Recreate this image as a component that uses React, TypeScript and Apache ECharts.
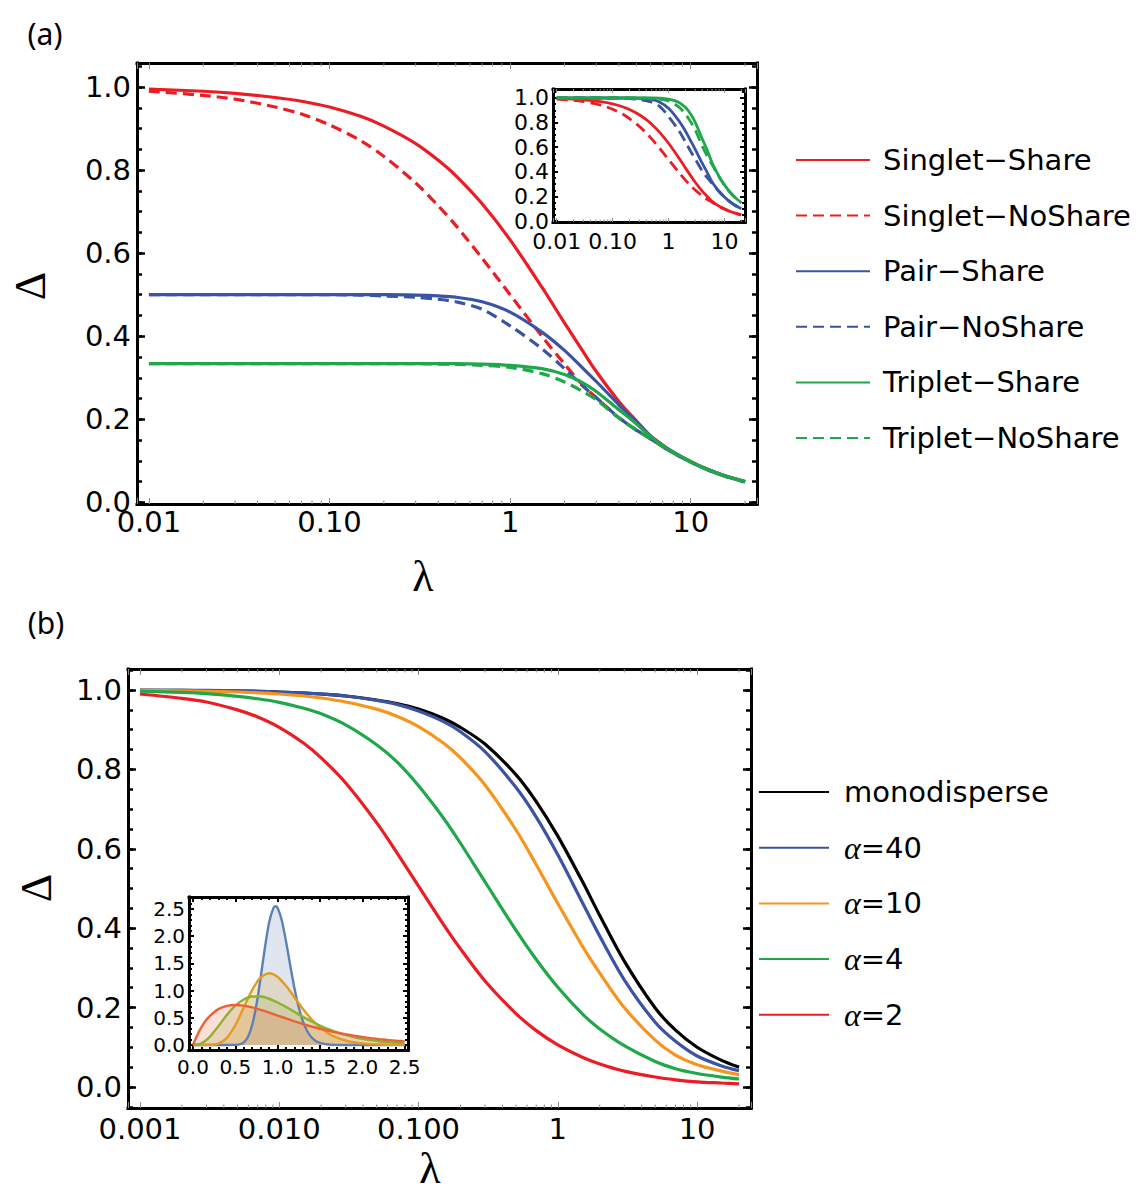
import React, { useEffect, useRef } from 'react';
import * as echarts from 'echarts';

// ---------------- Panel (a) data ----------------
const lambdaA = [0.01, 0.02, 0.03, 0.05, 0.07, 0.1, 0.15, 0.2, 0.3, 0.4, 0.5, 0.7, 1, 1.5, 2, 2.5, 3, 4, 5, 6, 7, 8, 10, 12, 15, 20];
const singletShare = [0.995, 0.99, 0.985, 0.975, 0.966, 0.952, 0.929, 0.906, 0.864, 0.824, 0.787, 0.719, 0.632, 0.518, 0.432, 0.367, 0.315, 0.243, 0.196, 0.16, 0.138, 0.121, 0.098, 0.082, 0.066, 0.05];
const singletNoShare = [0.99, 0.98, 0.971, 0.952, 0.935, 0.909, 0.87, 0.833, 0.769, 0.714, 0.667, 0.588, 0.5, 0.4, 0.333, 0.284, 0.252, 0.204, 0.174, 0.153, 0.134, 0.119, 0.097, 0.081, 0.065, 0.049];
const pairShare = [0.5, 0.5, 0.5, 0.5, 0.5, 0.5, 0.5, 0.5, 0.499, 0.497, 0.494, 0.483, 0.458, 0.41, 0.366, 0.325, 0.291, 0.235, 0.194, 0.159, 0.137, 0.121, 0.098, 0.082, 0.066, 0.05];
const pairNoShare = [0.5, 0.5, 0.5, 0.5, 0.5, 0.5, 0.499, 0.497, 0.494, 0.489, 0.483, 0.465, 0.425, 0.37, 0.322, 0.282, 0.252, 0.204, 0.174, 0.153, 0.134, 0.119, 0.097, 0.081, 0.065, 0.049];
const tripletShare = [0.334, 0.334, 0.334, 0.334, 0.334, 0.334, 0.334, 0.334, 0.334, 0.334, 0.334, 0.333, 0.33, 0.322, 0.308, 0.289, 0.267, 0.223, 0.189, 0.158, 0.137, 0.121, 0.098, 0.082, 0.066, 0.05];
const tripletNoShare = [0.334, 0.334, 0.334, 0.334, 0.334, 0.334, 0.334, 0.334, 0.334, 0.333, 0.332, 0.33, 0.325, 0.31, 0.29, 0.268, 0.247, 0.203, 0.174, 0.153, 0.134, 0.119, 0.097, 0.081, 0.065, 0.049];

// inset (a): normalised curves
const insetSingletShare = [0.995, 0.99, 0.985, 0.975, 0.966, 0.952, 0.929, 0.906, 0.864, 0.824, 0.787, 0.719, 0.632, 0.518, 0.432, 0.367, 0.315, 0.243, 0.196, 0.16, 0.138, 0.121, 0.098, 0.082, 0.066, 0.05];
const insetSingletNoShare = [0.99, 0.98, 0.971, 0.952, 0.935, 0.909, 0.87, 0.833, 0.769, 0.714, 0.667, 0.588, 0.5, 0.4, 0.333, 0.284, 0.252, 0.204, 0.174, 0.153, 0.134, 0.119, 0.097, 0.081, 0.065, 0.049];
const insetPairShare = [1, 1, 1, 1, 1, 1, 1, 1, 0.998, 0.994, 0.988, 0.966, 0.916, 0.82, 0.732, 0.65, 0.582, 0.47, 0.388, 0.318, 0.274, 0.242, 0.196, 0.164, 0.132, 0.1];
const insetPairNoShare = [1, 1, 1, 1, 1, 1, 0.998, 0.994, 0.988, 0.978, 0.966, 0.93, 0.85, 0.74, 0.644, 0.564, 0.504, 0.408, 0.348, 0.306, 0.268, 0.238, 0.194, 0.162, 0.13, 0.098];
const insetTripletShare = [1, 1, 1, 1, 1, 1, 1, 1, 1, 1, 1, 0.999, 0.99, 0.966, 0.924, 0.867, 0.801, 0.669, 0.567, 0.474, 0.411, 0.363, 0.294, 0.246, 0.198, 0.15];
const insetTripletNoShare = [1, 1, 1, 1, 1, 1, 1, 1, 1, 0.999, 0.996, 0.99, 0.975, 0.93, 0.87, 0.804, 0.741, 0.609, 0.522, 0.459, 0.402, 0.357, 0.291, 0.243, 0.195, 0.147];

// ---------------- Panel (b) data ----------------
const lambdaB = [0.001, 0.002, 0.003, 0.005, 0.007, 0.01, 0.015, 0.02, 0.03, 0.05, 0.07, 0.1, 0.15, 0.2, 0.3, 0.5, 0.7, 1, 1.5, 2, 3, 5, 7, 10, 15, 20];
const monodisperse = [0.9995, 0.999, 0.9985, 0.9975, 0.9965, 0.995, 0.9925, 0.99, 0.985, 0.975, 0.966, 0.952, 0.929, 0.906, 0.864, 0.787, 0.719, 0.632, 0.518, 0.432, 0.317, 0.199, 0.143, 0.1, 0.067, 0.05];
const alpha40 = [1, 0.999, 0.999, 0.998, 0.997, 0.995, 0.993, 0.99, 0.985, 0.974, 0.964, 0.947, 0.921, 0.895, 0.845, 0.755, 0.68, 0.585, 0.465, 0.38, 0.27, 0.163, 0.115, 0.078, 0.053, 0.041];
const alpha10 = [0.999, 0.998, 0.997, 0.995, 0.993, 0.99, 0.985, 0.98, 0.97, 0.952, 0.934, 0.908, 0.867, 0.829, 0.761, 0.648, 0.56, 0.462, 0.355, 0.287, 0.2, 0.118, 0.08, 0.056, 0.04, 0.031];
const alpha4 = [0.997, 0.994, 0.991, 0.984, 0.978, 0.969, 0.954, 0.94, 0.912, 0.862, 0.819, 0.759, 0.679, 0.614, 0.517, 0.395, 0.321, 0.251, 0.184, 0.146, 0.104, 0.064, 0.046, 0.034, 0.025, 0.02];
const alpha2 = [0.99, 0.979, 0.97, 0.95, 0.932, 0.906, 0.866, 0.829, 0.766, 0.666, 0.59, 0.506, 0.411, 0.348, 0.267, 0.185, 0.142, 0.106, 0.075, 0.058, 0.04, 0.025, 0.018, 0.013, 0.01, 0.008];

// inset (b): size distributions
const sizeX40 = [0, 0.4, 0.5, 0.55, 0.6, 0.65, 0.7, 0.75, 0.8, 0.85, 0.9, 0.95, 0.975, 1.0, 1.05, 1.1, 1.15, 1.2, 1.25, 1.3, 1.35, 1.4, 1.45, 1.5, 1.6, 1.7, 1.8, 2.0, 2.5];
const density40 = [0, 0, 0.002, 0.012, 0.05, 0.153, 0.373, 0.743, 1.246, 1.795, 2.257, 2.516, 2.549, 2.517, 2.284, 1.897, 1.453, 1.034, 0.688, 0.43, 0.253, 0.142, 0.075, 0.038, 0.009, 0.002, 0, 0, 0];
const sizeX10 = [0, 0.1, 0.2, 0.3, 0.4, 0.5, 0.6, 0.7, 0.8, 0.9, 1.0, 1.1, 1.2, 1.3, 1.4, 1.5, 1.6, 1.7, 1.8, 1.9, 2.0, 2.2, 2.5];
const density10 = [0, 0, 0.002, 0.027, 0.132, 0.363, 0.689, 1.014, 1.241, 1.318, 1.251, 1.085, 0.874, 0.66, 0.473, 0.324, 0.213, 0.135, 0.083, 0.05, 0.029, 0.009, 0.0015];
const sizeX4 = [0, 0.1, 0.2, 0.3, 0.4, 0.5, 0.6, 0.7, 0.8, 0.9, 1.0, 1.1, 1.2, 1.3, 1.4, 1.5, 1.6, 1.7, 1.8, 1.9, 2.0, 2.1, 2.2, 2.3, 2.4, 2.5];
const density4 = [0, 0.029, 0.153, 0.347, 0.551, 0.722, 0.836, 0.89, 0.89, 0.85, 0.781, 0.697, 0.607, 0.517, 0.433, 0.357, 0.29, 0.234, 0.186, 0.147, 0.115, 0.089, 0.069, 0.052, 0.04, 0.03];
const sizeX2 = [0, 0.05, 0.1, 0.15, 0.2, 0.3, 0.4, 0.5, 0.6, 0.7, 0.8, 0.9, 1.0, 1.1, 1.2, 1.3, 1.4, 1.5, 1.6, 1.7, 1.8, 1.9, 2.0, 2.1, 2.2, 2.3, 2.4, 2.5];
const density2 = [0, 0.181, 0.327, 0.444, 0.536, 0.659, 0.719, 0.736, 0.723, 0.69, 0.646, 0.595, 0.541, 0.488, 0.435, 0.386, 0.34, 0.299, 0.261, 0.227, 0.197, 0.17, 0.147, 0.126, 0.108, 0.0925, 0.079, 0.067];

// tick labels
const tickExpA = [-2, -1, 0, 1];
const tickLabelsA = ['0.01', '0.10', '1', '10'];
const tickExpB = [-3, -2, -1, 0, 1];
const tickLabelsB = ['0.001', '0.010', '0.100', '1', '10'];
const minorLogA = [0.02, 0.03, 0.04, 0.05, 0.06, 0.07, 0.08, 0.09, 0.2, 0.3, 0.4, 0.5, 0.6, 0.7, 0.8, 0.9, 2, 3, 4, 5, 6, 7, 8, 9, 20];
const minorLogB = [0.002, 0.003, 0.004, 0.005, 0.006, 0.007, 0.008, 0.009, ...minorLogA];

const legendA = ['Singlet−Share', 'Singlet−NoShare', 'Pair−Share', 'Pair−NoShare', 'Triplet−Share', 'Triplet−NoShare'];
const legendB = ['monodisperse', 'α=40', 'α=10', 'α=4', 'α=2'];

const FONT = "'DejaVu Sans', Verdana, sans-serif";
const SERIF = "'Liberation Serif', 'DejaVu Serif', serif";

const RED = '#ec1c24';
const BLUE = '#3a53a4';
const GREEN = '#1fa84a';
const ORANGE = '#f7941d';

function logFmt(exps: number[], labels: string[]) {
  return (v: number) => {
    const e = Math.log10(v);
    const r = Math.round(e);
    if (Math.abs(e - r) < 1e-6) {
      const k = exps.indexOf(r);
      if (k >= 0) return labels[k];
    }
    return '';
  };
}
function linFmt(step: number, digits: number) {
  return (v: number) => {
    const k = v / step;
    const r = Math.round(k);
    if (Math.abs(k - r) < 1e-6) return (r * step).toFixed(digits);
    return '';
  };
}

const xAxes: any[] = [];
const yAxes: any[] = [];

function addFrame(c: any) {
  const xi = xAxes.length;
  const yi = yAxes.length;
  const frameLine = { show: true, onZero: false, lineStyle: { color: '#000', width: c.frameW, cap: 'square' } };
  const noLine = { show: false, onZero: false };
  const baseX: any = {
    gridIndex: c.grid, type: c.xType, min: c.xmin, max: c.xmax, splitLine: { show: false },
    splitNumber: c.xSplit,
  };
  if (c.xType === 'log') baseX.logBase = 10;
  const xTick = { show: true, inside: true, length: c.xMajorLen, lineStyle: { color: c.xTickColor, width: c.xTickW } };
  const xLab = { show: true, formatter: c.xFmt, margin: c.xMargin, fontSize: c.font, fontFamily: FONT, color: '#000', showMinLabel: true, showMaxLabel: true };
  xAxes.push({ ...baseX, position: 'bottom', axisLine: frameLine, axisTick: xTick, axisLabel: xLab });
  xAxes.push({ ...baseX, position: 'top', axisLine: frameLine, axisTick: xTick, axisLabel: { show: false } });
  if (c.xType === 'value') {
    const mt = { show: true, inside: true, length: c.xMinorLen, lineStyle: { color: c.xTickColor, width: c.xTickW } };
    xAxes.push({ ...baseX, splitNumber: c.xMinorSplit, position: 'bottom', axisLine: noLine, axisTick: mt, axisLabel: { show: false } });
    xAxes.push({ ...baseX, splitNumber: c.xMinorSplit, position: 'top', axisLine: noLine, axisTick: mt, axisLabel: { show: false } });
  }
  const baseY: any = { gridIndex: c.grid, type: 'value', min: c.ymin, max: c.ymax, splitLine: { show: false } };
  const yTick = { show: true, inside: true, length: c.yMajorLen, lineStyle: { color: '#000', width: c.yTickW } };
  const yMinorTick = { show: true, inside: true, length: c.yMinorLen, lineStyle: { color: '#000', width: c.yTickW } };
  yAxes.push({ ...baseY, splitNumber: c.ySplit, position: 'left', axisLine: frameLine, axisTick: yTick,
    axisLabel: { show: true, formatter: c.yFmt, margin: c.yMargin, fontSize: c.font, fontFamily: FONT, color: '#000', showMinLabel: true, showMaxLabel: true } });
  yAxes.push({ ...baseY, splitNumber: c.yMinorSplit, position: 'left', axisLine: noLine, axisTick: yMinorTick, axisLabel: { show: false } });
  yAxes.push({ ...baseY, splitNumber: c.ySplit, position: 'right', axisLine: frameLine, axisTick: yTick, axisLabel: { show: false } });
  yAxes.push({ ...baseY, splitNumber: c.yMinorSplit, position: 'right', axisLine: noLine, axisTick: yMinorTick, axisLabel: { show: false } });
  return { xi, yi };
}

function minorLogSeries(frame: { xi: number; yi: number }, values: number[], yRef: number, len: number) {
  return {
    type: 'custom', silent: true, xAxisIndex: frame.xi, yAxisIndex: frame.yi, z: 5, clip: false,
    data: values.map((v) => [v, yRef]),
    renderItem: (params: any, api: any) => {
      const p = api.coord([api.value(0), api.value(1)]);
      const cs = params.coordSys;
      const st = { stroke: '#8a8a8a', lineWidth: 1 };
      return {
        type: 'group',
        children: [
          { type: 'line', shape: { x1: p[0], y1: cs.y + cs.height, x2: p[0], y2: cs.y + cs.height - len }, style: st },
          { type: 'line', shape: { x1: p[0], y1: cs.y, x2: p[0], y2: cs.y + len }, style: st },
        ],
      };
    },
  };
}

const grids = [
  { left: 137, top: 63, width: 620, height: 441 },
  { left: 553, top: 89, width: 192, height: 133, show: true, backgroundColor: '#fff', borderWidth: 0 },
  { left: 128, top: 669, width: 623, height: 439 },
  { left: 189, top: 897, width: 219, height: 153, show: true, backgroundColor: '#fff', borderWidth: 0 },
];

const frameA = addFrame({
  grid: 0, xType: 'log', xmin: Math.pow(10, -2.066), xmax: Math.pow(10, 1.367), xSplit: 5,
  xFmt: logFmt(tickExpA, tickLabelsA), xMargin: 3, xMajorLen: 6, xTickColor: '#8a8a8a', xTickW: 1,
  ymin: -0.004, ymax: 1.058, ySplit: 5, yMinorSplit: 20, yFmt: linFmt(0.2, 1), yMargin: 6,
  yMajorLen: 8, yMinorLen: 5, yTickW: 2.5, font: 29, frameW: 3,
});
const frameAi = addFrame({
  grid: 1, xType: 'log', xmin: Math.pow(10, -2.066), xmax: Math.pow(10, 1.367), xSplit: 5,
  xFmt: logFmt(tickExpA, tickLabelsA), xMargin: 8, xMajorLen: 4, xTickColor: '#8a8a8a', xTickW: 1,
  ymin: -0.008, ymax: 1.073, ySplit: 5, yMinorSplit: 20, yFmt: linFmt(0.2, 1), yMargin: 4,
  yMajorLen: 5, yMinorLen: 3, yTickW: 2, font: 22, frameW: 3,
});
const frameB = addFrame({
  grid: 2, xType: 'log', xmin: Math.pow(10, -3.086), xmax: Math.pow(10, 1.387), xSplit: 5,
  xFmt: logFmt(tickExpB, tickLabelsB), xMargin: 6, xMajorLen: 6, xTickColor: '#8a8a8a', xTickW: 1,
  ymin: -0.053, ymax: 1.053, ySplit: 5, yMinorSplit: 20, yFmt: linFmt(0.2, 1), yMargin: 6,
  yMajorLen: 8, yMinorLen: 5, yTickW: 2.5, font: 29, frameW: 3,
});
const frameBi = addFrame({
  grid: 3, xType: 'value', xmin: -0.047, xmax: 2.54, xSplit: 5, xMinorSplit: 26,
  xFmt: linFmt(0.5, 1), xMargin: 7, xMajorLen: 5, xMinorLen: 3, xTickColor: '#000', xTickW: 2,
  ymin: -0.092, ymax: 2.72, ySplit: 5, yMinorSplit: 28, yFmt: linFmt(0.5, 1), yMargin: 4,
  yMajorLen: 5, yMinorLen: 3, yTickW: 2, font: 20, frameW: 3,
});

function lineSeries(name: string, frame: any, xs: number[], ys: number[], color: string, dashed: boolean, width: number, z = 3) {
  return {
    type: 'line', name, xAxisIndex: frame.xi, yAxisIndex: frame.yi,
    data: xs.map((x, i) => [x, ys[i]]),
    symbol: 'none', showSymbol: false, smooth: 0.3, z,
    lineStyle: { color, width, type: dashed ? [11, 6] : 'solid' },
    itemStyle: { color },
  };
}

const series: any[] = [
  lineSeries(legendA[0], frameA, lambdaA, singletShare, RED, false, 3.2),
  lineSeries(legendA[1], frameA, lambdaA, singletNoShare, RED, true, 3.2),
  lineSeries(legendA[2], frameA, lambdaA, pairShare, BLUE, false, 3.2),
  lineSeries(legendA[3], frameA, lambdaA, pairNoShare, BLUE, true, 3.2),
  lineSeries(legendA[4], frameA, lambdaA, tripletShare, GREEN, false, 3.2),
  lineSeries(legendA[5], frameA, lambdaA, tripletNoShare, GREEN, true, 3.2),
  lineSeries('inset Singlet-Share', frameAi, lambdaA, insetSingletShare, RED, false, 2.8),
  lineSeries('inset Singlet-NoShare', frameAi, lambdaA, insetSingletNoShare, RED, true, 2.8),
  lineSeries('inset Pair-Share', frameAi, lambdaA, insetPairShare, BLUE, false, 2.8),
  lineSeries('inset Pair-NoShare', frameAi, lambdaA, insetPairNoShare, BLUE, true, 2.8),
  lineSeries('inset Triplet-Share', frameAi, lambdaA, insetTripletShare, GREEN, false, 2.8),
  lineSeries('inset Triplet-NoShare', frameAi, lambdaA, insetTripletNoShare, GREEN, true, 2.8),
  lineSeries(legendB[0], frameB, lambdaB, monodisperse, '#000', false, 3.2),
  lineSeries(legendB[1], frameB, lambdaB, alpha40, BLUE, false, 3.2),
  lineSeries(legendB[2], frameB, lambdaB, alpha10, ORANGE, false, 3.2),
  lineSeries(legendB[3], frameB, lambdaB, alpha4, GREEN, false, 3.2),
  lineSeries(legendB[4], frameB, lambdaB, alpha2, RED, false, 3.2),
  minorLogSeries(frameA, minorLogA, 0.5, 3.5),
  minorLogSeries(frameAi, minorLogA, 0.5, 2.5),
  minorLogSeries(frameB, minorLogB, 0.5, 3.5),
];

const insetB = [
  { name: 'density α=40', xs: sizeX40, ys: density40, color: '#5e81b5' },
  { name: 'density α=10', xs: sizeX10, ys: density10, color: '#e19c24' },
  { name: 'density α=4', xs: sizeX4, ys: density4, color: '#8fb032' },
  { name: 'density α=2', xs: sizeX2, ys: density2, color: '#eb6235' },
];
insetB.forEach((d) => {
  const s: any = lineSeries(d.name, frameBi, d.xs, d.ys, d.color, false, 2.4, 4);
  s.smooth = 0.25;
  s.areaStyle = { color: d.color, opacity: 0.2 };
  series.push(s);
});

const legendCommon = {
  orient: 'vertical', selectedMode: false, itemHeight: 16,
  itemStyle: { opacity: 0, color: 'rgba(0,0,0,0)', borderWidth: 0 },
};

const option: any = {
  animation: false,
  backgroundColor: '#fff',
  grid: grids,
  xAxis: xAxes,
  yAxis: yAxes,
  legend: [
    {
      ...legendCommon,
      data: legendA, left: 790, top: 138, itemWidth: 74, itemGap: 21.6,
      textStyle: { fontSize: 29, fontFamily: FONT, color: '#000', lineHeight: 34, padding: [0, 0, 0, 8] },
    },
    {
      ...legendCommon,
      data: legendB, left: 753, top: 770, itemWidth: 70, itemGap: 21.7,
      formatter: (n: string) => n.replace('α', '{i|α}'),
      textStyle: {
        fontSize: 29, fontFamily: FONT, color: '#000', lineHeight: 34, padding: [0, 0, 0, 10],
        rich: { i: { fontStyle: 'italic', fontFamily: SERIF, fontSize: 32, color: '#000' } },
      },
    },
  ],
  graphic: [
    { type: 'text', x: 45, y: 33, style: { text: '(a)', font: "30px 'Noto Sans', 'Open Sans', sans-serif", fill: '#000', textAlign: 'center', textVerticalAlign: 'middle' } },
    { type: 'text', x: 46, y: 622, style: { text: '(b)', font: "30px 'Noto Sans', 'Open Sans', sans-serif", fill: '#000', textAlign: 'center', textVerticalAlign: 'middle' } },
    { type: 'text', x: 30, y: 286, rotation: Math.PI / 2, style: { text: 'Δ', font: `44px ${SERIF}`, fill: '#000', textAlign: 'center', textVerticalAlign: 'middle' } },
    { type: 'text', x: 36, y: 888, rotation: Math.PI / 2, style: { text: 'Δ', font: `44px ${SERIF}`, fill: '#000', textAlign: 'center', textVerticalAlign: 'middle' } },
    { type: 'text', x: 423, y: 576, style: { text: 'λ', font: `44px ${SERIF}`, fill: '#000', textAlign: 'center', textVerticalAlign: 'middle' } },
    { type: 'text', x: 430, y: 1168, style: { text: 'λ', font: `44px ${SERIF}`, fill: '#000', textAlign: 'center', textVerticalAlign: 'middle' } },
  ],
  series,
};

export default function App() {
  const ref = useRef<HTMLDivElement>(null);
  useEffect(() => {
    document.body.style.margin = '0';
    if (!ref.current) return;
    const chart = echarts.init(ref.current, undefined, { renderer: 'svg' });
    chart.setOption(option);
    return () => chart.dispose();
  }, []);
  return <div ref={ref} style={{ width: 1142, height: 1196 }} />;
}
